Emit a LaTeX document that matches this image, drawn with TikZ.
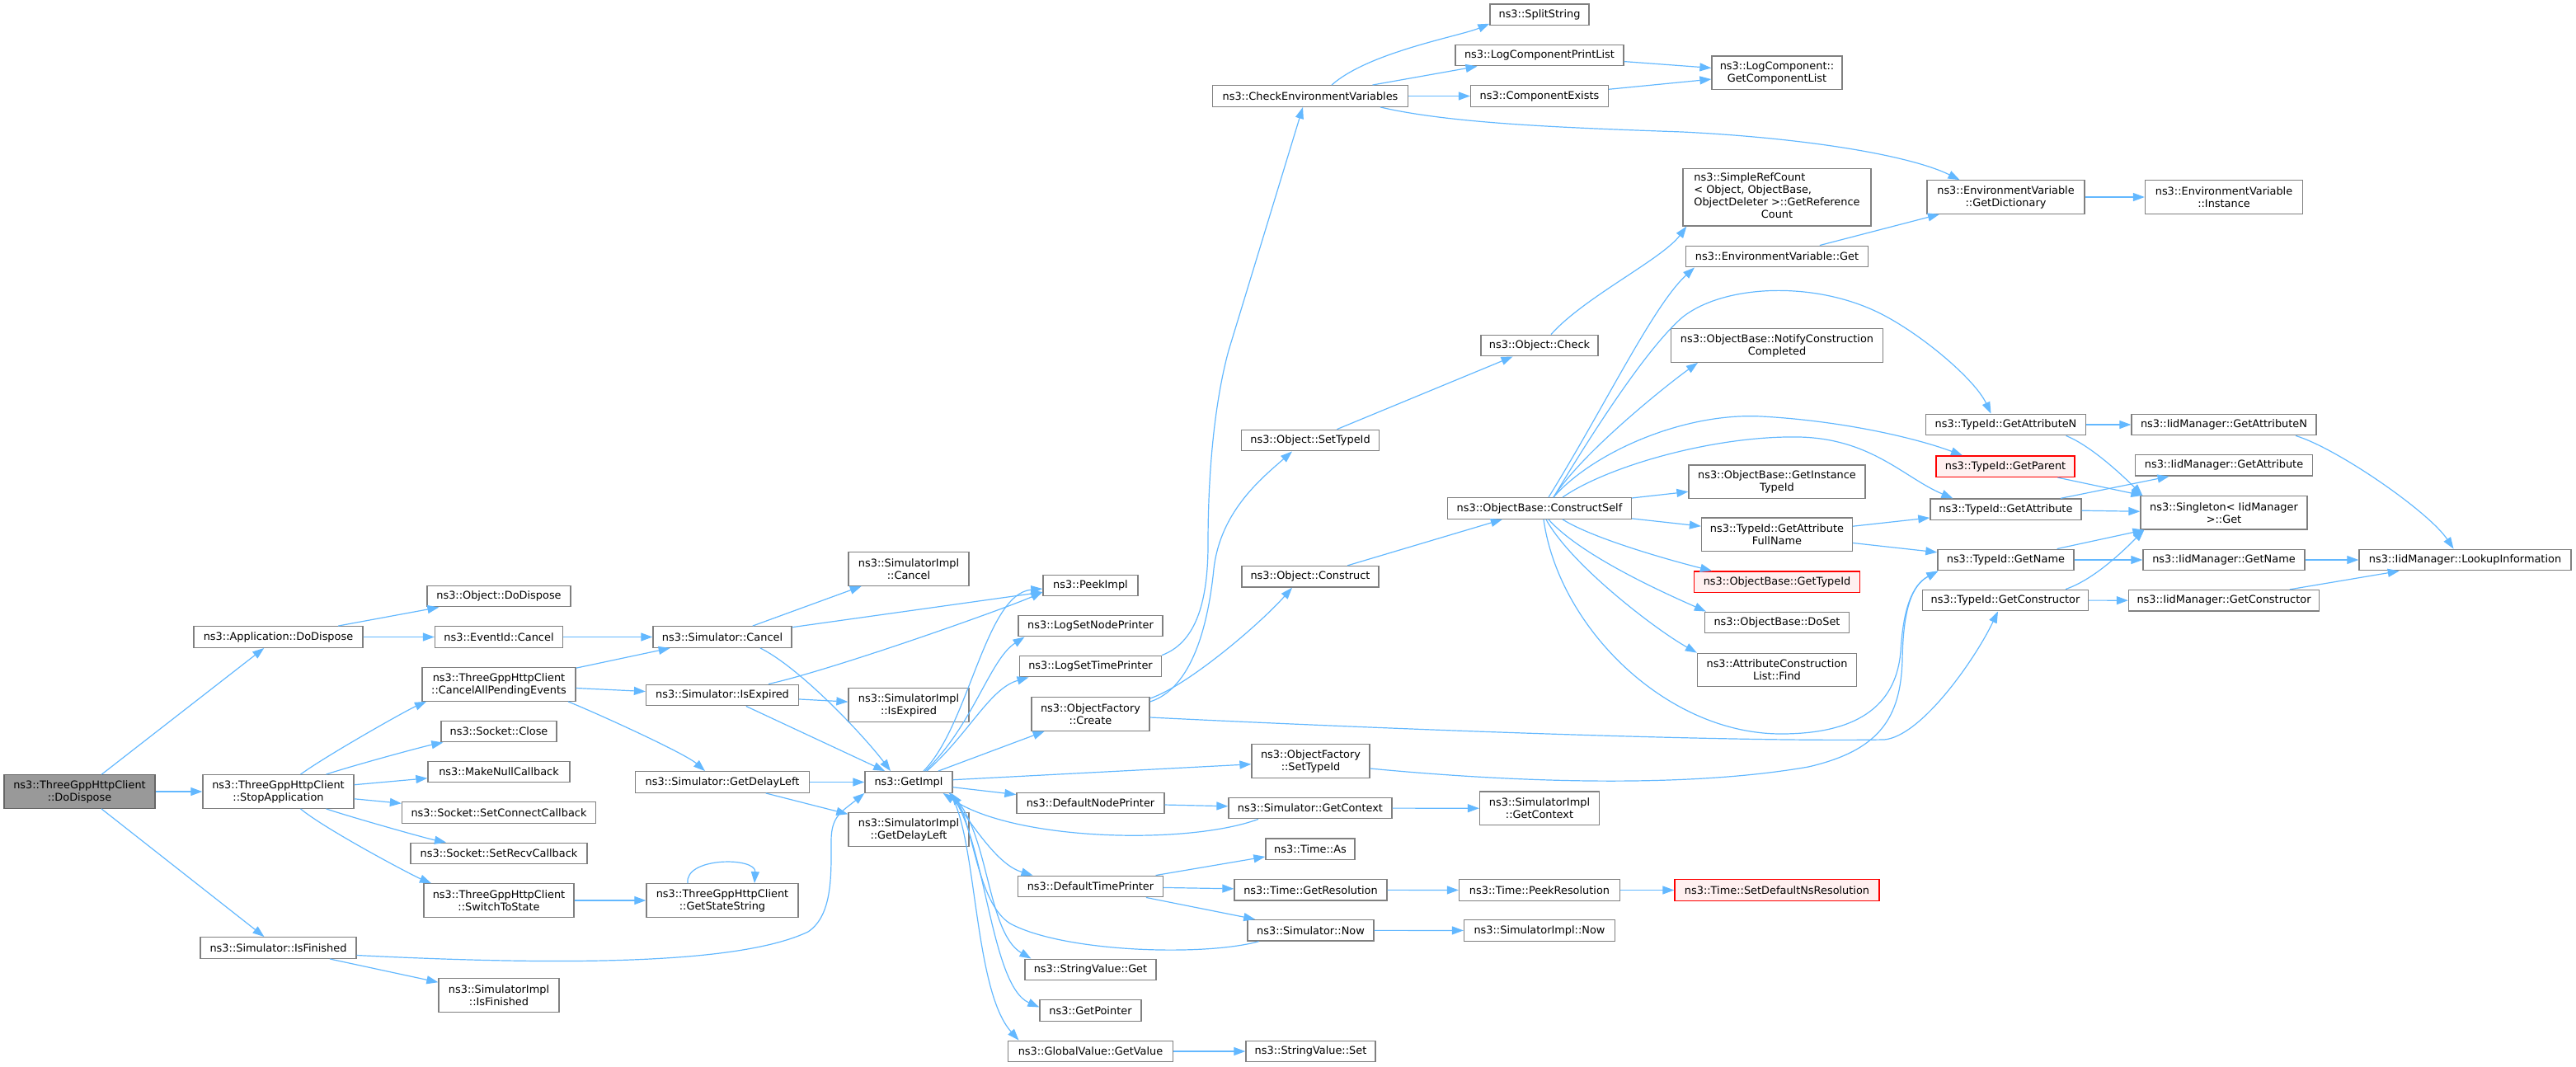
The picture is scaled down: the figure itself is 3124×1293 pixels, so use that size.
\documentclass[tikz,border=0pt]{standalone}
\usepackage{fontspec}
\setmainfont{DejaVu Sans}
\usetikzlibrary{arrows.meta}
\definecolor{callblue}{HTML}{63B8FF}
\definecolor{boxgray}{HTML}{808080}
\definecolor{rootgray}{HTML}{999999}
\definecolor{rootedge}{HTML}{666666}
\definecolor{redfill}{HTML}{FFF0F0}
\begin{document}
\begin{tikzpicture}[x=1pt,y=1pt,
	fn/.style={draw=boxgray,fill=white,line width=1.3pt,inner sep=0pt,align=center,minimum height=25.6pt,font=\fontsize{12.9}{15}\selectfont},
	fnii/.style={fn,minimum height=40.5pt},
	fnroot/.style={fnii,draw=rootedge,fill=rootgray},
	fnred/.style={fn,draw=red,fill=redfill},
	call/.style={draw=callblue,line width=1.2pt,-{Triangle[length=14pt,width=10pt]}}]
	\useasboundingbox (0,0) rectangle (3124,-1293);

	\node[fnroot,minimum width=183pt] (root) at (96.5,-960) {ns3::ThreeGppHttpClient\\::DoDispose};
	\node[fn,minimum width=205pt] (appDispose) at (337.5,-772.5) {ns3::Application::DoDispose};
	\node[fnii,minimum width=183pt] (stopApp) at (337.5,-960) {ns3::ThreeGppHttpClient\\::StopApplication};
	\node[fn,minimum width=189pt] (isFinished) at (337.5,-1149.5) {ns3::Simulator::IsFinished};

	\node[fn,minimum width=174pt] (objDispose) at (605,-723) {ns3::Object::DoDispose};
	\node[fn,minimum width=155pt] (eventCancel) at (605,-772.5) {ns3::EventId::Cancel};
	\node[fnii,minimum width=186pt] (cancelAll) at (605,-830) {ns3::ThreeGppHttpClient\\::CancelAllPendingEvents};
	\node[fn,minimum width=140pt] (sockClose) at (605,-887) {ns3::Socket::Close};
	\node[fn,minimum width=172pt] (makeNull) at (605,-936) {ns3::MakeNullCallback};
	\node[fn,minimum width=235pt] (setConnect) at (605,-985.5) {ns3::Socket::SetConnectCallback};
	\node[fn,minimum width=214pt] (setRecv) at (605,-1035) {ns3::Socket::SetRecvCallback};
	\node[fnii,minimum width=182pt] (switchState) at (605,-1092) {ns3::ThreeGppHttpClient\\::SwitchToState};
	\node[fnii,minimum width=146pt] (implFinished) at (605,-1207) {ns3::SimulatorImpl\\::IsFinished};

	\node[fn,minimum width=168pt] (simCancel) at (876,-772.5) {ns3::Simulator::Cancel};
	\node[fn,minimum width=185pt] (simExpired) at (876,-843) {ns3::Simulator::IsExpired};
	\node[fn,minimum width=211pt] (simDelay) at (876,-948.5) {ns3::Simulator::GetDelayLeft};
	\node[fnii,minimum width=184pt] (stateString) at (876,-1092) {ns3::ThreeGppHttpClient\\::GetStateString};

	\node[fnii,minimum width=146pt] (implCancel) at (1102,-690) {ns3::SimulatorImpl\\::Cancel};
	\node[fnii,minimum width=146pt] (implExpired) at (1102,-855) {ns3::SimulatorImpl\\::IsExpired};
	\node[fn,minimum width=106pt] (getImpl) at (1102,-948.5) {ns3::GetImpl};
	\node[fnii,minimum width=146pt] (implDelay) at (1102,-1006) {ns3::SimulatorImpl\\::GetDelayLeft};

	\node[fn,minimum width=115pt] (peekImpl) at (1322.5,-710) {ns3::PeekImpl};
	\node[fn,minimum width=175pt] (nodePrinterSet) at (1322.5,-759) {ns3::LogSetNodePrinter};
	\node[fn,minimum width=172pt] (timePrinterSet) at (1322.5,-808) {ns3::LogSetTimePrinter};
	\node[fnii,minimum width=143pt] (factCreate) at (1322.5,-866) {ns3::ObjectFactory\\::Create};
	\node[fn,minimum width=179pt] (nodePrinter) at (1322.5,-974) {ns3::DefaultNodePrinter};
	\node[fn,minimum width=176pt] (timePrinter) at (1322.5,-1075) {ns3::DefaultTimePrinter};
	\node[fn,minimum width=159pt] (strGet) at (1322.5,-1176) {ns3::StringValue::Get};
	\node[fn,minimum width=123pt] (getPointer) at (1322.5,-1225.5) {ns3::GetPointer};
	\node[fn,minimum width=200pt] (globalGet) at (1322.5,-1275) {ns3::GlobalValue::GetValue};

	\node[fn,minimum width=237pt] (checkEnv) at (1589,-116.5) {ns3::CheckEnvironmentVariables};
	\node[fn,minimum width=167pt] (objSetTid) at (1589,-534) {ns3::Object::SetTypeId};
	\node[fn,minimum width=166pt] (objConstruct) at (1589,-699.3) {ns3::Object::Construct};
	\node[fnii,minimum width=143pt] (factSetTid) at (1589.5,-923) {ns3::ObjectFactory\\::SetTypeId};
	\node[fn,minimum width=198pt] (simContext) at (1589,-980) {ns3::Simulator::GetContext};
	\node[fn,minimum width=108pt] (timeAs) at (1589,-1029.7) {ns3::Time::As};
	\node[fn,minimum width=185pt] (timeRes) at (1589.5,-1079.3) {ns3::Time::GetResolution};
	\node[fn,minimum width=153pt] (simNow) at (1589.5,-1128.3) {ns3::Simulator::Now};
	\node[fn,minimum width=157pt] (strSet) at (1589.5,-1275) {ns3::StringValue::Set};

	\node[fn,minimum width=120pt] (splitStr) at (1867,-17.7) {ns3::SplitString};
	\node[fn,minimum width=204pt] (printList) at (1867,-67) {ns3::LogComponentPrintList};
	\node[fn,minimum width=167pt] (compExists) at (1867,-116.5) {ns3::ComponentExists};
	\node[fn,minimum width=142pt] (objCheck) at (1867,-419) {ns3::Object::Check};
	\node[fn,minimum width=223pt] (constructSelf) at (1867,-616.5) {ns3::ObjectBase::ConstructSelf};
	\node[fnii,minimum width=145pt] (implContext) at (1867,-980.3) {ns3::SimulatorImpl\\::GetContext};
	\node[fn,minimum width=195pt] (peekRes) at (1867,-1079.5) {ns3::Time::PeekResolution};
	\node[fn,minimum width=183pt] (implNow) at (1867,-1128.5) {ns3::SimulatorImpl::Now};

	\node[fnii,minimum width=158pt] (compList) at (2155,-88.3) {ns3::LogComponent::\\GetComponentList};
	\node[fn,minimum width=228pt,minimum height=69.3pt] (refCount) at (2155,-239.3) {\begin{tabular}{@{}c@{}}\multicolumn{1}{@{}l@{}}{ns3::SimpleRefCount}\\\multicolumn{1}{@{}l@{}}{< Object, ObjectBase,}\\ObjectDeleter >::GetReference\\Count\end{tabular}};
	\node[fn,minimum width=221pt] (envGet) at (2155,-311) {ns3::EnvironmentVariable::Get};
	\node[fnii,minimum width=257pt] (notifyDone) at (2155,-419) {ns3::ObjectBase::NotifyConstruction\\Completed};
	\node[fnii,minimum width=214pt] (instanceTid) at (2155,-584.3) {ns3::ObjectBase::GetInstance\\TypeId};
	\node[fnii,minimum width=183pt] (attrFullName) at (2155,-648.3) {ns3::TypeId::GetAttribute\\FullName};
	\node[fnred,minimum width=201pt] (baseTid) at (2155,-705.7) {ns3::ObjectBase::GetTypeId};
	\node[fn,minimum width=175pt] (doSet) at (2155,-755) {ns3::ObjectBase::DoSet};
	\node[fnii,minimum width=193pt] (listFind) at (2155,-812.5) {ns3::AttributeConstruction\\List::Find};
	\node[fnred,minimum width=248pt] (setNsRes) at (2155,-1079.5) {ns3::Time::SetDefaultNsResolution};

	\node[fnii,minimum width=191pt] (envDict) at (2432.5,-239) {ns3::EnvironmentVariable\\::GetDictionary};
	\node[fn,minimum width=194pt] (tidAttrN) at (2432.5,-515) {ns3::TypeId::GetAttributeN};
	\node[fnred,minimum width=168pt] (tidParent) at (2432,-565.7) {ns3::TypeId::GetParent};
	\node[fn,minimum width=183pt] (tidAttr) at (2432.4,-617.8) {ns3::TypeId::GetAttribute};
	\node[fn,minimum width=165pt] (tidName) at (2432.4,-679) {ns3::TypeId::GetName};
	\node[fn,minimum width=201pt] (tidCtor) at (2432,-728) {ns3::TypeId::GetConstructor};

	\node[fnii,minimum width=191pt] (envInstance) at (2697,-239) {ns3::EnvironmentVariable\\::Instance};
	\node[fn,minimum width=224pt] (iidAttrN) at (2697,-515) {ns3::IidManager::GetAttributeN};
	\node[fn,minimum width=215pt] (iidAttr) at (2697,-564.3) {ns3::IidManager::GetAttribute};
	\node[fnii,minimum width=202pt] (singletonGet) at (2697,-621.8) {ns3::Singleton< IidManager\\>::Get};
	\node[fn,minimum width=196pt] (iidName) at (2697,-679) {ns3::IidManager::GetName};
	\node[fn,minimum width=231pt] (iidCtor) at (2697,-728.3) {ns3::IidManager::GetConstructor};

	\node[fn,minimum width=257pt] (lookupInfo) at (2989.5,-679) {ns3::IidManager::LookupInformation};

	\foreach \a/\b in {root/appDispose,root/stopApp,root/isFinished,appDispose/objDispose,appDispose/eventCancel,
		eventCancel/simCancel,stopApp/makeNull,stopApp/setConnect,cancelAll/simCancel,cancelAll/simExpired,
		switchState/stateString,isFinished/implFinished,simCancel/implCancel,simCancel/peekImpl,simExpired/implExpired,
		simExpired/getImpl,simDelay/getImpl,simDelay/implDelay,getImpl/factCreate,getImpl/factSetTid,getImpl/nodePrinter,
		nodePrinter/simContext,simContext/implContext,timePrinter/timeAs,timePrinter/timeRes,timePrinter/simNow,
		timeRes/peekRes,peekRes/setNsRes,simNow/implNow,globalGet/strSet,objSetTid/objCheck,objConstruct/constructSelf,
		checkEnv/printList,checkEnv/compExists,printList/compList,compExists/compList,envGet/envDict,envDict/envInstance,
		constructSelf/instanceTid,constructSelf/attrFullName,attrFullName/tidAttr,attrFullName/tidName,tidAttrN/iidAttrN,
		tidParent/singletonGet,tidAttr/iidAttr,tidAttr/singletonGet,tidName/singletonGet,tidName/iidName,tidCtor/iidCtor,
		iidName/lookupInfo,iidCtor/lookupInfo}
		\draw[call] (\a) -- (\b);

	\draw[call] ([xshift=27pt]stopApp.north) .. controls +(30,22) and +(-25,-11) .. ([xshift=-88pt]cancelAll.south);
	\draw[call] ([xshift=58pt]stopApp.north) .. controls +(30,10) and +(-25,-5) .. ([xshift=3pt]sockClose.south west);
	\draw[call] ([xshift=58pt]stopApp.south) .. controls +(30,-10) and +(-25,5) .. ([xshift=-64pt]setRecv.north);
	\draw[call] ([xshift=27pt]stopApp.south) .. controls +(30,-25) and +(-22,9) .. ([xshift=-82pt]switchState.north);
	\draw[call] ([xshift=84pt]cancelAll.south) .. controls +(30,-12) and +(-25,22) .. ([xshift=-21pt]simDelay.north);
	\draw[call] ([xshift=-42pt]stateString.north) .. controls +(-4,32) and +(2,32) .. ([xshift=39pt]stateString.north);
	\draw[call] ([yshift=-9pt]isFinished.east) .. controls (700,-1172) and (900,-1168) .. (980,-1130) .. controls (1010,-1110) and (1008,-1060) .. (1008,-1020) .. controls (1008,-990) and (1020,-985) .. (getImpl.south west);

	\draw[call] ([xshift=46pt]simCancel.south) .. controls +(50,-25) and +(-30,40) .. ([xshift=-22pt]getImpl.north);
	\draw[call] ([xshift=56pt]simExpired.north) .. controls +(80,18) and +(-45,-20) .. ([yshift=-8pt]peekImpl.west);
	\draw[call] ([xshift=18pt]getImpl.north) .. controls (1175,-880) and (1195,-720) .. ([yshift=-4pt]peekImpl.west);
	\draw[call] ([xshift=20pt]getImpl.north) .. controls (1180,-880) and (1200,-800) .. ([xshift=-80pt]nodePrinterSet.south);
	\draw[call] ([xshift=22pt]getImpl.north) .. controls (1175,-890) and (1200,-835) .. ([xshift=-75pt]timePrinterSet.south);
	\draw[call] ([xshift=-4pt]getImpl.south east) .. controls +(35,-50) and +(-40,12) .. ([xshift=-70pt]timePrinter.north);
	\draw[call] ([xshift=-4pt]getImpl.south east) .. controls (1200,-1000) and (1195,-1130) .. ([xshift=-72pt]strGet.north);
	\draw[call] ([xshift=-4pt]getImpl.south east) .. controls (1195,-1010) and (1200,-1195) .. ([yshift=4pt]getPointer.west);
	\draw[call] ([xshift=-4pt]getImpl.south east) .. controls (1185,-1010) and (1180,-1200) .. ([xshift=-87pt]globalGet.north);
	\draw[call] ([xshift=-63pt]simContext.south) .. controls (1440,-1025) and (1230,-1020) .. ([xshift=-12pt]getImpl.south east);
	\draw[call] ([xshift=-63pt]simNow.south) .. controls (1460,-1160) and (1290,-1155) .. (1225,-1120) .. controls (1185,-1095) and (1180,-1000) .. ([xshift=-2pt]getImpl.south east);

	\draw[call] ([yshift=15pt]factCreate.east) .. controls (1445,-835) and (1465,-760) .. (1472,-690) .. controls (1480,-620) and (1530,-580) .. ([xshift=-22pt]objSetTid.south);
	\draw[call] ([yshift=19pt]factCreate.east) .. controls +(45,15) and +(-40,-45) .. ([xshift=-22pt]objConstruct.south);
	\draw[call] (timePrinterSet.north east) .. controls (1448,-780) and (1465,-735) .. (1465,-660) .. controls (1465,-560) and (1475,-480) .. (1490,-425) -- ([xshift=-9pt]checkEnv.south);
	\draw[call] ([yshift=-4pt]factCreate.east) .. controls (1700,-885) and (2100,-900) .. (2285,-897) .. controls (2330,-893) and (2395,-800) .. ([xshift=-9pt]tidCtor.south);
	\draw[call] ([yshift=-9pt]factSetTid.east) .. controls (1850,-950) and (2050,-955) .. (2193,-930) .. controls (2280,-910) and (2305,-870) .. (2307,-800) .. controls (2308,-740) and (2318,-710) .. ([xshift=-82pt]tidName.south);

	\draw[call] ([xshift=5pt]constructSelf.south) .. controls (1890,-760) and (2020,-890) .. (2160,-890) .. controls (2260,-890) and (2300,-850) .. (2305,-790) .. controls (2308,-740) and (2318,-710) .. ([xshift=-82pt]tidName.south);
	\draw[call] ([xshift=11pt]constructSelf.north) .. controls (1945,-495) and (2005,-370) .. ([xshift=-100pt]envGet.south);
	\draw[call] ([xshift=17pt]constructSelf.north) .. controls (1940,-510) and (2000,-420) .. (2040,-385) .. controls (2090,-345) and (2200,-340) .. (2280,-380) .. controls (2330,-405) and (2395,-460) .. ([xshift=-18pt]tidAttrN.north);
	\draw[call] ([xshift=17pt]constructSelf.north) .. controls +(35,55) and +(-35,-25) .. ([xshift=-96pt]notifyDone.south);
	\draw[call] ([xshift=17pt]constructSelf.north) .. controls (1930,-550) and (2040,-500) .. (2136,-505) .. controls (2230,-510) and (2320,-530) .. ([xshift=-52pt]tidParent.north);
	\draw[call] ([xshift=28pt]constructSelf.north) .. controls (1950,-565) and (2080,-528) .. (2182,-530) .. controls (2270,-532) and (2310,-580) .. ([xshift=-64pt]tidAttr.north);
	\draw[call] ([xshift=28pt]constructSelf.south) .. controls +(40,-25) and +(-40,10) .. ([xshift=-79pt]baseTid.north);
	\draw[call] ([xshift=11pt]constructSelf.south) .. controls +(40,-45) and +(-45,20) .. ([xshift=2pt]doSet.north west);
	\draw[call] ([xshift=8pt]constructSelf.south) .. controls +(30,-55) and +(-50,28) .. (listFind.north west);
	\draw[call] ([xshift=14pt]objCheck.north) .. controls +(40,45) and +(-30,-40) .. ([xshift=5pt]refCount.south west);

	\draw[call] ([xshift=26pt]checkEnv.north) .. controls +(45,40) and +(-35,-15) .. ([yshift=-11pt]splitStr.west);
	\draw[call] ([xshift=85pt]checkEnv.south) .. controls (1760,-150) and (1900,-155) .. (2040,-160) .. controls (2200,-168) and (2320,-190) .. ([xshift=-56pt]envDict.north);
	\draw[call] ([xshift=73pt]tidAttrN.south) .. controls +(30,-12) and +(-25,25) .. ([xshift=3pt]singletonGet.north west);
	\draw[call] ([xshift=73pt]tidCtor.north) .. controls +(35,12) and +(-25,-25) .. ([xshift=5pt]singletonGet.south west);
	\draw[call] ([xshift=87pt]iidAttrN.south) .. controls +(50,-15) and +(-30,45) .. ([xshift=-14pt]lookupInfo.north);
\end{tikzpicture}
\end{document}
